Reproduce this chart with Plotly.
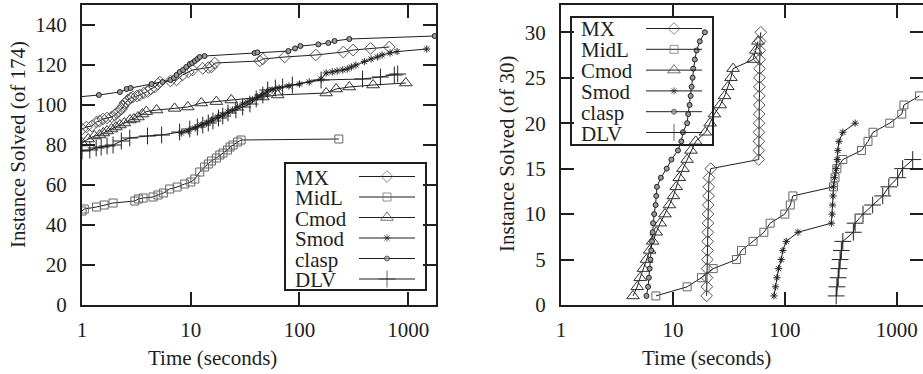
import plotly.graph_objects as go

W, H = 923, 374

# ---------------- data: left panel (of 174) ----------------
MX_L_t = [1.0, 1.1, 1.23, 1.36, 1.45, 1.56, 1.7, 1.87, 2.0, 2.08, 2.2, 2.31, 2.4, 2.48, 2.56, 2.64, 2.8, 2.94,
          3.2, 3.4, 3.7, 4.0, 4.3, 4.67, 5.0, 5.2, 6.5, 7.4, 8.4, 9.5, 10.4, 12.9, 14.5, 15.5, 16.6,
          43, 46, 73, 141, 253, 311, 450, 670]
MX_L_v = [88, 89, 89.5, 91.5, 92, 93, 93.5, 94, 95, 96, 97, 98, 99.5, 101, 101.5, 102.5, 103.5, 104,
          104.5, 105, 106, 106.7, 108, 109, 110.5, 111.5, 112, 112.5, 115, 116.5, 117.5, 118.3, 118.7, 119, 121,
          122, 123, 124, 125, 126.5, 127.5, 128.3, 129]

MidL_L_t = [1.0, 1.05, 1.36, 1.6, 1.93, 3.06, 3.3, 3.65, 4.5, 5.0, 5.6, 6.4, 7.5, 8.8, 10.0, 10.9, 12.1, 13.4,
            14.5, 15.5, 17.2, 18.5, 19.8, 21.8, 23, 24.5, 27, 29, 230]
MidL_L_v = [47, 48, 49, 50, 51, 52, 53, 53.5, 54, 55, 56, 58, 59, 60.5, 61.5, 63, 66.5, 69,
            70.5, 72, 73.5, 75, 76, 77.5, 79, 80, 81.5, 82.5, 83]

Cmod_L_t = [1.0, 1.14, 1.3, 1.45, 1.57, 1.7, 1.87, 2.05, 2.23, 2.45, 2.76, 3.0, 3.27, 3.6, 3.9, 4.85, 7.1,
            9.4, 12.5, 17.2, 23.6, 46, 63, 176, 217, 287, 475, 950]
Cmod_L_v = [81, 83, 84.5, 85, 86, 87, 88, 89, 90, 91, 92.5, 93, 94, 95.5, 96.7, 97.5, 98.3,
            99, 101, 101.7, 102.5, 104, 105, 106, 108, 109, 110, 111]

Smod_L_t = [8.2, 9.5, 11, 12.5, 14, 15.5, 17.7, 19.7, 22, 24.3, 27, 30, 33, 37, 41, 45, 50, 56, 65, 80, 100,
            123, 158, 176, 200, 222, 250, 275, 300, 330, 395, 455, 520, 575, 680, 790, 1480]
Smod_L_v = [86, 87, 88.5, 90, 91, 92.5, 94, 95, 96.5, 97.5, 99, 100.5, 101.5, 102.5, 104, 105, 106.5, 107.5,
            108.5, 109.5, 110.5, 111.5, 113, 116, 116.5, 117, 117.5, 118, 119, 120, 121.7, 123, 124, 125, 126,
            126.7, 128]

clasp_L_t = [0.9, 1.43, 2.23, 2.57, 2.8, 4.36, 5.5, 6.5, 7.0, 7.4, 7.9, 8.5, 9.1, 9.8, 10.3, 10.9, 11.5, 12.1,
             13.4, 38.6, 41, 79, 91, 102, 149, 184, 210, 287, 1750]
clasp_L_v = [104, 105, 106.5, 108, 108.5, 110.5, 111.5, 112.5, 113.5, 115, 116.5, 117.5, 119, 120.5, 121, 122,
             123, 124, 124.5, 126, 126.3, 127, 128.3, 129.5, 130.3, 131, 132, 133, 134.5]

DLV_L_t = [1.0, 1.18, 1.35, 1.5, 1.7, 1.93, 2.3, 2.75, 4.0, 5.4, 7.9, 9.8, 11.5, 12.9, 14.5, 16, 18, 19.7, 22,
           26, 30, 35, 40, 46, 51, 60, 70, 86, 158, 380, 555, 745, 800]
DLV_L_v = [77, 77.5, 78.5, 79, 79.5, 80, 82, 83.5, 84.5, 85, 86.5, 88, 89, 90, 91, 92, 93.5, 94.5, 96,
           97.5, 99, 100.5, 103, 105, 107.5, 108.5, 109, 110, 112.5, 113, 114, 115, 115.5]

# ---------------- data: right panel (of 30) ----------------
MX_R_t = [20.0, 20.1, 20.2, 20.2, 20.3, 20.4, 20.4, 20.5, 20.6, 20.6, 20.7, 20.8, 20.9, 21.0, 21.8,
          58.5, 58.6, 58.7, 58.8, 58.9, 59.0, 59.1, 59.2, 59.3, 59.4, 59.5, 59.6, 59.8, 60.0, 61.0]
MX_R_v = [1, 2, 3, 4, 5, 6, 7, 8, 9, 10, 11, 12, 13, 14, 15,
          16, 17, 18, 19, 20, 21, 22, 23, 24, 25, 26, 27, 28, 29, 30]

MidL_R_t = [7.05, 13.4, 18, 22.9, 37, 41, 52, 65, 74, 100, 112, 118, 272, 281, 292, 330, 484, 554, 614, 866,
            1110, 1160, 1600]
MidL_R_v = [1, 2, 3, 4, 5, 6, 7, 8, 9, 10, 11, 12, 13, 14, 15, 16, 17, 18, 19, 20, 21, 22, 23]

Cmod_R_t = [4.4, 4.8, 5.1, 5.45, 5.8, 6.2, 6.6, 7.1, 7.7, 8.5, 9.3, 10.1, 10.7, 11.4, 12.3, 13.4, 14.5, 16.0,
            19.5, 21.5, 23.5, 26.5, 29, 31, 33, 34.5, 52, 55, 57.5]
Cmod_R_v = [1, 2, 3, 4, 5, 6, 7, 8, 9, 10, 11, 12, 13, 14, 15, 16, 17, 18, 19, 20, 21, 22, 23, 24, 25, 26,
            27, 28, 29]

Smod_R_t = [80, 82.6, 85, 88, 93, 96, 103, 131, 261, 265, 267, 270, 272, 278, 288, 294, 298, 305, 330, 425]
Smod_R_v = [1, 2, 3, 4, 5, 6, 7, 8, 9, 10, 11, 12, 13, 14, 15, 16, 17, 18, 19, 20]

clasp_R_t = [5.8, 6.0, 6.1, 6.2, 6.3, 6.4, 6.5, 6.6, 6.65, 6.8, 7.0, 7.1, 7.2, 7.8, 8.8, 9.7, 11.1, 11.9, 12.3,
             13.4, 13.7, 14.1, 14.4, 14.7, 15.0, 15.2, 15.7, 16.3, 17.4, 19.3]
clasp_R_v = [1, 2, 3, 4, 5, 6, 7, 8, 9, 10, 11, 12, 13, 14, 15, 16, 17, 18, 19, 20, 21, 22, 23, 24, 25, 26,
             27, 28, 29, 30]

DLV_R_t = [288, 292, 300, 305, 312, 320, 330, 410, 425, 500, 610, 750, 850, 1020, 1130, 1390]
DLV_R_v = [1, 2, 3, 4, 5, 6, 7, 8, 9, 10, 11, 12, 13, 14, 15, 16]

series_names = ["MX", "MidL", "Cmod", "Smod", "clasp", "DLV"]
left_data = {"MX": (MX_L_t, MX_L_v), "MidL": (MidL_L_t, MidL_L_v), "Cmod": (Cmod_L_t, Cmod_L_v),
             "Smod": (Smod_L_t, Smod_L_v), "clasp": (clasp_L_t, clasp_L_v), "DLV": (DLV_L_t, DLV_L_v)}
right_data = {"MX": (MX_R_t, MX_R_v), "MidL": (MidL_R_t, MidL_R_v), "Cmod": (Cmod_R_t, Cmod_R_v),
              "Smod": (Smod_R_t, Smod_R_v), "clasp": (clasp_R_t, clasp_R_v), "DLV": (DLV_R_t, DLV_R_v)}

x_tickvals = [1, 10, 100, 1000]
x_ticktext = ["1", "10", "100", "1000"]
yl_ticks = [0, 20, 40, 60, 80, 100, 120, 140]
yr_ticks = [0, 5, 10, 15, 20, 25, 30]

# ---------------- styles ----------------
FONT = "Liberation Serif"
INK = "#1e1e1e"
styles = {
    "MX": dict(symbol="diamond-open", size=9, color="#555555", line=dict(width=1, color="#555555")),
    "MidL": dict(symbol="square-open", size=8, color="#666666", line=dict(width=1, color="#666666")),
    "Cmod": dict(symbol="triangle-up-open", size=11, color="#333333", line=dict(width=1, color="#333333")),
    "Smod": dict(symbol="asterisk-open", size=6, color="#222222", line=dict(width=1, color="#222222")),
    "clasp": dict(symbol="circle", size=5, color="#999999", line=dict(width=1, color="#222222")),
    "DLV": dict(symbol="cross-thin-open", size=12, color="#222222", line=dict(width=1, color="#222222")),
}

fig = go.Figure()

for name in series_names:
    t, v = left_data[name]
    fig.add_trace(go.Scatter(x=t, y=v, mode="lines+markers", xaxis="x", yaxis="y",
                             line=dict(color=INK, width=1), marker=styles[name],
                             showlegend=False, name=name))
for name in series_names:
    t, v = right_data[name]
    fig.add_trace(go.Scatter(x=t, y=v, mode="lines+markers", xaxis="x2", yaxis="y2",
                             line=dict(color=INK, width=1), marker=styles[name],
                             showlegend=False, name=name))

# ---------------- custom legends (text left, sample right) ----------------
def px_dom_x(a, b):
    return [a / W, b / W]

def px_dom_y(top, bottom):
    return [1 - bottom / H, 1 - top / H]

legend_boxes = {
    "3": dict(row0=13.5, step=20.5, tx=8, l0=74, l1=130),
    "4": dict(row0=11.5, step=20.8, tx=8, l0=75, l1=131),
}
annotations = []
shapes = []
for ax, b in legend_boxes.items():
    xa, ya = "x" + ax, "y" + ax
    for i, name in enumerate(series_names):
        yy = b["row0"] + b["step"] * i
        st = dict(styles[name])
        st["size"] = [0, st["size"], 0]
        fig.add_trace(go.Scatter(x=[b["l0"], (b["l0"] + b["l1"]) / 2, b["l1"]], y=[yy, yy, yy],
                                 mode="lines+markers", xaxis=xa, yaxis=ya, showlegend=False,
                                 line=dict(color=INK, width=1), marker=st, hoverinfo="skip"))
        annotations.append(dict(x=b["tx"], y=yy + 1, xref=xa, yref=ya, text=name, showarrow=False,
                                xanchor="left", yanchor="middle",
                                font=dict(family=FONT, size=21, color=INK)))
    shapes.append(dict(type="rect", xref=xa + " domain", yref=ya + " domain", x0=0, x1=1, y0=0, y1=1,
                       line=dict(color=INK, width=2), fillcolor="rgba(0,0,0,0)"))

# ---------------- axis titles ----------------
for cx, cy, txt, ang in [(212, 358, "Time (seconds)", 0), (706, 358, "Time (seconds)", 0),
                         (18, 145, "Instance Solved (of 174)", -90), (507, 154, "Instance Solved (of 30)", -90)]:
    annotations.append(dict(x=cx / W, y=1 - cy / H, xref="paper", yref="paper", text=txt, showarrow=False,
                            xanchor="center", yanchor="middle", textangle=ang,
                            font=dict(family=FONT, size=21, color=INK)))

axis_common = dict(showgrid=False, zeroline=False, showline=True, linecolor=INK, linewidth=2,
                   ticks="inside", ticklen=13, tickwidth=2, tickcolor=INK, mirror="ticks",
                   automargin=False, tickfont=dict(family=FONT, size=21, color=INK))

TOP, BOT = 5, 305
fig.update_layout(
    width=W, height=H, margin=dict(l=0, r=0, t=0, b=0, autoexpand=False),
    paper_bgcolor="white", plot_bgcolor="rgba(0,0,0,0)",
    xaxis=dict(type="log", range=[0, 3.2553], domain=px_dom_x(82, 436), anchor="y",
               tickvals=x_tickvals, ticktext=x_ticktext, ticklabelstandoff=5, **axis_common),
    yaxis=dict(range=[0, 150], domain=px_dom_y(TOP, BOT), anchor="x",
               tickvals=yl_ticks, ticklabelstandoff=9, **axis_common),
    xaxis2=dict(type="log", range=[0, 3.235], domain=px_dom_x(561, 923), anchor="y2",
                tickvals=x_tickvals, ticktext=x_ticktext, ticklabelstandoff=5, **axis_common),
    yaxis2=dict(range=[0, 33], domain=px_dom_y(TOP, BOT), anchor="x2",
                tickvals=yr_ticks, ticklabelstandoff=9, **axis_common),
    xaxis3=dict(domain=px_dom_x(285, 426), range=[0, 141], visible=False, anchor="y3", automargin=False),
    yaxis3=dict(domain=px_dom_y(163, 290), range=[127, 0], visible=False, anchor="x3", automargin=False),
    xaxis4=dict(domain=px_dom_x(571, 713), range=[0, 142], visible=False, anchor="y4", automargin=False),
    yaxis4=dict(domain=px_dom_y(17, 145), range=[128, 0], visible=False, anchor="x4", automargin=False),
    annotations=annotations, shapes=shapes,
)

fig.write_html("out.html", config={"displayModeBar": False},
               post_script="document.body.style.margin='0px';document.body.style.overflow='hidden';")
